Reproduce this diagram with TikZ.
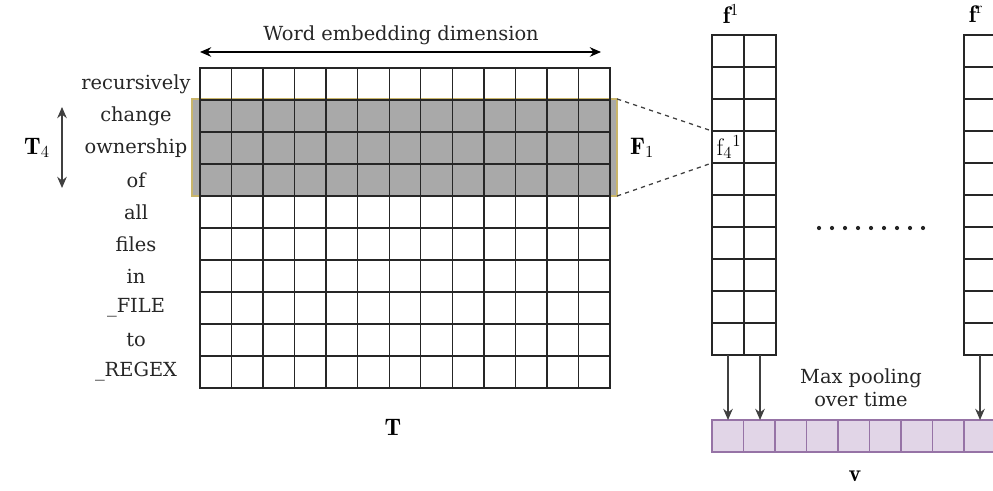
\documentclass[tikz,border=0pt]{standalone}
\usepackage{amsmath}
\usepackage{fontspec}
\newfontfamily\wordfont{DejaVu Serif}
\usetikzlibrary{positioning,arrows.meta}
\definecolor{hlfill}{HTML}{A9A9A9}
\definecolor{hldraw}{HTML}{C9B56A}
\definecolor{poolfill}{HTML}{E1D5E7}
\definecolor{pooldraw}{HTML}{9673A6}
\tikzset{
  gridcell/.style={draw=black!85, line width=1pt, minimum width=0.7885cm,
    minimum height=0.8cm, inner sep=0pt, outer sep=0pt},
  fcell/.style={gridcell, minimum width=0.8cm},
  poolcell/.style={gridcell, draw=pooldraw, fill=poolfill, minimum width=0.7875cm},
  hlbox/.style={draw=hldraw, line width=1.3pt, fill=hlfill, inner sep=0pt, outer sep=0pt},
  figarrow/.style={-{Stealth[length=2.8mm, width=2.4mm]}, line width=0.9pt, black!75},
  botharrow/.style={{Stealth[length=2.8mm, width=2.4mm]}-{Stealth[length=2.8mm, width=2.4mm]},
    line width=1pt},
  linkline/.style={dash pattern=on 3pt off 3pt, line width=0.9pt, black!75},
  wordlabel/.style={font=\wordfont\fontsize{13.8}{16.5}\selectfont, inner sep=0pt, align=center, text=black!85},
  mathlabel/.style={font=\fontsize{17}{20}\selectfont, inner sep=0pt},
}

\begin{document}
\begin{tikzpicture}[x=0.025cm, y=-0.025cm]
  \useasboundingbox (0,0) rectangle (993,491);
  \clip (0,0) rectangle (993,491);

  % selected window of three words
  \node[hlbox, minimum width=10.625cm, minimum height=2.425cm] (hl) at (404.5,147.5) {};

  % sentence matrix
  \foreach \r in {0,...,9}
    \foreach \c in {0,...,12}
      \node[gridcell] (t-\r-\c) at ({200+31.54*(\c+0.5)},{84+32*\r}) {};
  \foreach \w [count=\i from 0] in {recursively, change, ownership, of, all,
      files, in, \_FILE, to, \_REGEX}
    \node[wordlabel] (w\i) at (136,{84+32*\i}) {\w};

  \coordinate (dimL) at (200,52);
  \coordinate (dimR) at (601,52);
  \draw[botharrow] (dimL) -- (dimR);
  \node[wordlabel] (dim) at (401,35) {Word embedding dimension};

  \coordinate (winT) at (62,107);
  \coordinate (winB) at (62,188);
  \draw[botharrow, black!75] (winT) -- (winB);
  \node[mathlabel] (tfour) at (37,148) {$\mathbf{T}_4$};
  \node[mathlabel] (tmat) at (393,427) {$\mathbf{T}$};
  \node[mathlabel] (fone) at (642,148) {$\mathbf{F}_1$};

  % feature maps
  \foreach \r in {0,...,9}
    \foreach \c in {0,1} {
      \node[fcell] (f1-\r-\c) at ({728+32*\c},{51+32*\r}) {};
      \node[fcell] (fr-\r-\c) at ({980+32*\c},{51+32*\r}) {};
    }
  \node[mathlabel] (fonelab) at (731,14) {$\mathbf{f}^{1}$};
  \node[mathlabel] (frlab) at (976,14) {$\mathbf{f}^{\mathrm{r}}$};
  \node[font=\fontsize{17}{20}\selectfont, inner sep=0pt] (ffour) at (729,147) {f$_4{}^1$};

  \draw[linkline] (hl.north east) -- (f1-3-0.north west);
  \draw[linkline] (hl.south east) -- (f1-4-0.north west);

  \foreach \k in {0,...,8}
    \fill[black!85] ({819+13*\k},228) circle (1.5pt);

  % pooled vector
  \foreach \c in {0,...,9}
    \node[poolcell] (v-\c) at ({727.75+31.5*\c},436) {};
  \node[mathlabel] (vlab) at (855,476) {$\mathbf{v}$};
  \node[wordlabel] (pool) at (861,388) {Max pooling\\over time};

  \draw[figarrow] (f1-9-0.south) -- (f1-9-0.south |- v-0.north);
  \draw[figarrow] (f1-9-1.south) -- (f1-9-1.south |- v-1.north);
  \draw[figarrow] (fr-9-0.south) -- (fr-9-0.south |- v-8.north);
\end{tikzpicture}
\end{document}
